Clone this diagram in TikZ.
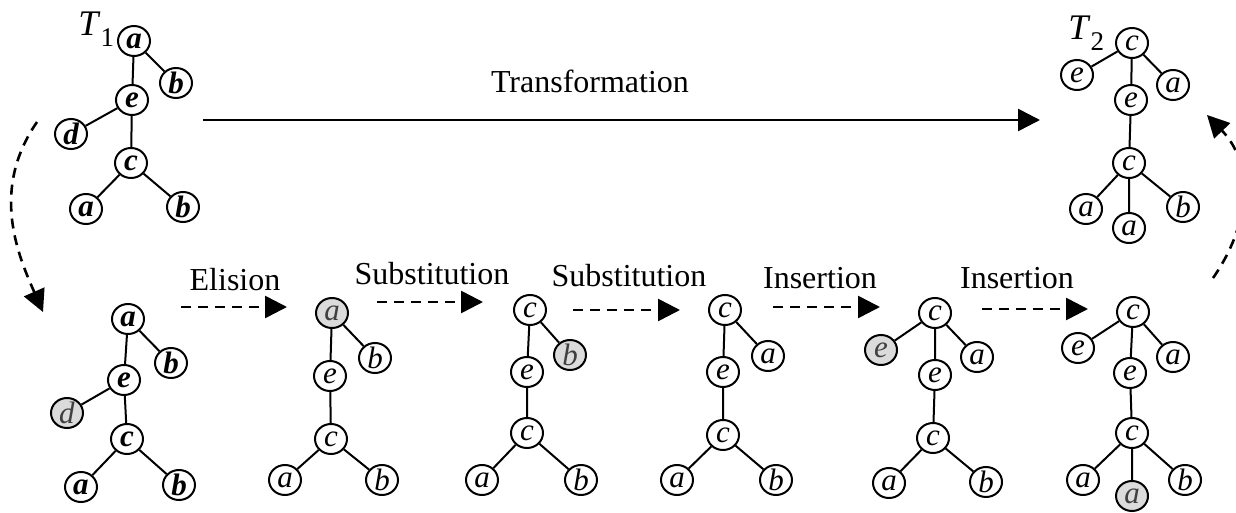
\documentclass[tikz,border=0pt]{standalone}
\usepackage{fontspec}
\setmainfont{Liberation Serif}
\usetikzlibrary{shapes.geometric,arrows.meta}
\newcommand{\nlet}[1]{\makebox[0pt]{\smash{\raisebox{-.5\height}{#1}}}}
\begin{document}
\begin{tikzpicture}[x=0.5pt,y=-0.5pt,
 tn/.style={ellipse,draw,line width=1pt,minimum width=16pt,minimum height=15pt,inner sep=0pt,font=\fontsize{15.5}{18}\selectfont\itshape},
 tb/.style={tn,font=\fontsize{15.5}{18}\selectfont\bfseries\itshape},
 hl/.style={tn,fill=gray!28,text=black!75},
 treeline/.style={line width=1pt},
 lbl/.style={font=\fontsize{16}{19}\selectfont,anchor=base,inner sep=0pt},
 tlab/.style={anchor=base west,inner sep=0pt},
 solidarrow/.style={line width=1.3pt,-{Triangle[length=11pt,width=11pt]}},
 dasharrow/.style={solidarrow,dash pattern=on 5pt off 3.5pt},
]
\useasboundingbox (0,0) rectangle (1236,513);

% ---------- T1 ----------
\node[tlab] (t1lab) at (78,36) {\fontsize{18}{20}\selectfont\textit{T}\raisebox{-5.5pt}{\fontsize{13.5}{15}\selectfont 1}};
\node[tb] (t1a) at (134,41) {\nlet{a}};
\node[tb] (t1b) at (176,83) {\nlet{b}};
\node[tb] (t1e) at (132,100) {\nlet{e}};
\node[tb] (t1d) at (71,134) {\nlet{d}};
\node[tb] (t1c) at (131,163) {\nlet{c}};
\node[tb] (t1a2) at (86,209) {\nlet{a}};
\node[tb] (t1b2) at (183,207) {\nlet{b}};
\draw[treeline] (t1a)--(t1e) (t1a)--(t1b) (t1e)--(t1d) (t1e)--(t1c) (t1c)--(t1a2) (t1c)--(t1b2);

% ---------- T2 ----------
\node[tlab] (t2lab) at (1068,40) {\fontsize{18}{20}\selectfont\textit{T}\raisebox{-5.5pt}{\fontsize{13.5}{15}\selectfont 2}};
\node[tn] (t2c) at (1132,43) {\nlet{c}};
\node[tn] (t2el) at (1077,75) {\nlet{e}};
\node[tn] (t2ar) at (1173,85) {\nlet{a}};
\node[tn] (t2em) at (1131,100) {\nlet{e}};
\node[tn] (t2cm) at (1129,163) {\nlet{c}};
\node[tn] (t2al) at (1086,209) {\nlet{a}};
\node[tn] (t2ab) at (1129,228) {\nlet{a}};
\node[tn] (t2br) at (1183,207) {\nlet{b}};
\draw[treeline] (t2c)--(t2el) (t2c)--(t2ar) (t2c)--(t2em) (t2em)--(t2cm) (t2cm)--(t2al) (t2cm)--(t2ab) (t2cm)--(t2br);

% ---------- L1 ----------
\node[tb] (l1a) at (128,319) {\nlet{a}};
\node[tb] (l1b) at (171,363) {\nlet{b}};
\node[tb] (l1e) at (124,380) {\nlet{e}};
\node[hl] (l1d) at (67,413) {\nlet{d}};
\node[tb] (l1c) at (127,439) {\nlet{c}};
\node[tb] (l1a2) at (81,487) {\nlet{a}};
\node[tb] (l1b2) at (179,485) {\nlet{b}};
\draw[treeline] (l1a)--(l1e) (l1a)--(l1b) (l1e)--(l1d) (l1e)--(l1c) (l1c)--(l1a2) (l1c)--(l1b2);

% ---------- L2 ----------
\node[hl] (l2a) at (332,313) {\nlet{a}};
\node[tn] (l2b) at (375,358) {\nlet{b}};
\node[tn] (l2e) at (330,376) {\nlet{e}};
\node[tn] (l2c) at (331,439) {\nlet{c}};
\node[tn] (l2a2) at (285,480) {\nlet{a}};
\node[tn] (l2b2) at (382,480) {\nlet{b}};
\draw[treeline] (l2a)--(l2b) (l2a)--(l2e) (l2e)--(l2c) (l2c)--(l2a2) (l2c)--(l2b2);

% ---------- L3 ----------
\node[tn] (l3c) at (530,310) {\nlet{c}};
\node[hl] (l3b) at (570,355) {\nlet{b}};
\node[tn] (l3e) at (527,372) {\nlet{e}};
\node[tn] (l3c2) at (527,433) {\nlet{c}};
\node[tn] (l3a2) at (482,480) {\nlet{a}};
\node[tn] (l3b2) at (581,480) {\nlet{b}};
\draw[treeline] (l3c)--(l3b) (l3c)--(l3e) (l3e)--(l3c2) (l3c2)--(l3a2) (l3c2)--(l3b2);

% ---------- L4 ----------
\node[tn] (l4c) at (725,310) {\nlet{c}};
\node[tn] (l4a) at (768,356) {\nlet{a}};
\node[tn] (l4e) at (723,372) {\nlet{e}};
\node[tn] (l4c2) at (723,435) {\nlet{c}};
\node[tn] (l4a2) at (677,480) {\nlet{a}};
\node[tn] (l4b2) at (776,480) {\nlet{b}};
\draw[treeline] (l4c)--(l4a) (l4c)--(l4e) (l4e)--(l4c2) (l4c2)--(l4a2) (l4c2)--(l4b2);

% ---------- L5 ----------
\node[tn] (l5c) at (935,313) {\nlet{c}};
\node[hl] (l5el) at (881,350) {\nlet{e}};
\node[tn] (l5a) at (977,357) {\nlet{a}};
\node[tn] (l5e) at (935,375) {\nlet{e}};
\node[tn] (l5c2) at (933,438) {\nlet{c}};
\node[tn] (l5a2) at (889,483) {\nlet{a}};
\node[tn] (l5b2) at (986,482) {\nlet{b}};
\draw[treeline] (l5c)--(l5el) (l5c)--(l5a) (l5c)--(l5e) (l5e)--(l5c2) (l5c2)--(l5a2) (l5c2)--(l5b2);

% ---------- L6 ----------
\node[tn] (l6c) at (1133,312) {\nlet{c}};
\node[tn] (l6el) at (1078,348) {\nlet{e}};
\node[tn] (l6a) at (1173,357) {\nlet{a}};
\node[tn] (l6e) at (1130,373) {\nlet{e}};
\node[tn] (l6c2) at (1132,433) {\nlet{c}};
\node[tn] (l6a2) at (1083,480) {\nlet{a}};
\node[hl] (l6ab) at (1132,496) {\nlet{a}};
\node[tn] (l6b2) at (1185,480) {\nlet{b}};
\draw[treeline] (l6c)--(l6el) (l6c)--(l6a) (l6c)--(l6e) (l6e)--(l6c2) (l6c2)--(l6a2) (l6c2)--(l6ab) (l6c2)--(l6b2);

% ---------- arrows ----------
\coordinate (tr1) at (203,120); \coordinate (tr2) at (1040,120);
\draw[solidarrow] (tr1) -- (tr2);
\node[lbl] (trlab) at (590,93) {Transformation};

\coordinate (el1) at (181,307); \coordinate (el2) at (287,307);
\draw[dasharrow] (el1) -- (el2);
\node[lbl] (ellab) at (235,291) {Elision};

\coordinate (s11) at (377,302); \coordinate (s12) at (483,302);
\draw[dasharrow] (s11) -- (s12);
\node[lbl] (s1lab) at (432,285) {Substitution};

\coordinate (s21) at (573,310); \coordinate (s22) at (680,310);
\draw[dasharrow] (s21) -- (s22);
\node[lbl] (s2lab) at (629,286) {Substitution};

\coordinate (i11) at (773,307); \coordinate (i12) at (880,307);
\draw[dasharrow] (i11) -- (i12);
\node[lbl] (i1lab) at (820,288) {Insertion};

\coordinate (i21) at (982,309); \coordinate (i22) at (1088,309);
\draw[dasharrow] (i21) -- (i22);
\node[lbl] (i2lab) at (1017,288) {Insertion};

\coordinate (lc1) at (37,122); \coordinate (lc2) at (43,312);
\draw[dasharrow] (lc1) .. controls (-10,190) and (18,255) .. (lc2);

\coordinate (rc1) at (1213,278); \coordinate (rc2) at (1207,115);
\draw[dasharrow] (rc1) .. controls (1250,225) and (1255,165) .. (rc2);
\end{tikzpicture}
\end{document}
